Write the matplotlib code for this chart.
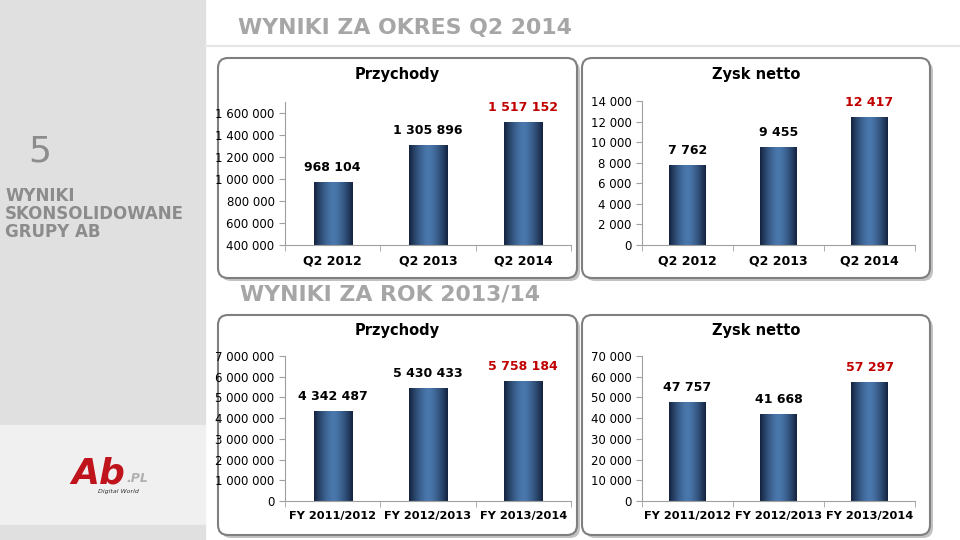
import numpy as np
import matplotlib.pyplot as plt
from matplotlib.patches import FancyBboxPatch, Rectangle
from matplotlib.colors import LinearSegmentedColormap

# data
q_labels = ["Q2 2012", "Q2 2013", "Q2 2014"]
q_revenue = [968104, 1305896, 1517152]
q_profit = [7762, 9455, 12417]

fy_labels = ["FY 2011/2012", "FY 2012/2013", "FY 2013/2014"]
fy_revenue = [4342487, 5430433, 5758184]
fy_profit = [47757, 41668, 57297]

W, H = 960, 540
fig = plt.figure(figsize=(9.6, 5.4), dpi=100)
fig.patch.set_facecolor("white")


def px(x, y, w, h):
    # pixel box (top-left origin) -> figure fraction
    return [x / W, 1 - (y + h) / H, w / W, h / H]


bg = fig.add_axes([0, 0, 1, 1], zorder=-10)
bg.set_xlim(0, W)
bg.set_ylim(H, 0)
bg.axis("off")
bg.add_patch(Rectangle((0, 0), 205, 425, color="#e0e0e0"))
bg.add_patch(Rectangle((0, 425), 205, 100, color="#f0f0f0"))
bg.add_patch(Rectangle((0, 525), 205, 15, color="#e0e0e0"))
bg.plot([205, 960], [46, 46], color="#e6e6e6", lw=1.5)

bg.text(238, 28, "WYNIKI ZA OKRES Q2 2014", color="#a6a6a6", fontsize=15.8,
        fontweight="bold", va="center")
bg.text(240, 295, "WYNIKI ZA ROK 2013/14", color="#a6a6a6", fontsize=15.8,
        fontweight="bold", va="center")
bg.text(40, 152, "5", color="#8c8c8c", fontsize=26, ha="center", va="center")
bg.text(5, 214, "WYNIKI\nSKONSOLIDOWANE\nGRUPY AB", color="#8c8c8c", fontsize=12,
        fontweight="bold", va="center", linespacing=1.0)
bg.text(98, 474, "Ab", color="#c0141c", fontsize=26, fontweight="bold",
        style="italic", ha="center", va="center")
bg.text(126, 478, ".PL", color="#b0b0b0", fontsize=9, fontweight="bold",
        style="italic", va="center")
bg.text(118, 492, "Digital World", color="#333333", fontsize=4.5,
        style="italic", ha="center", va="center")

boxes = [(218, 58, 359, 220, "Przychody"), (582, 58, 348, 220, "Zysk netto"),
         (218, 315, 359, 220, "Przychody"), (582, 315, 348, 220, "Zysk netto")]
for x, y, w, h, title in boxes:
    bg.add_patch(FancyBboxPatch((x + 3, y + 3), w, h, boxstyle="round,pad=0,rounding_size=10",
                                fc="#9a9a9a", ec="none", alpha=0.6))
    bg.add_patch(FancyBboxPatch((x, y), w, h, boxstyle="round,pad=0,rounding_size=10",
                                fc="white", ec="#7f7f7f", lw=1.5))
    bg.text(x + w / 2, y + 16, title, fontsize=10.5, fontweight="bold",
            ha="center", va="center")


def fmt(v):
    return f"{int(v):,}".replace(",", " ")


def bar_chart(rect, labels, values, ylim, step, xlim, xfs=9):
    ax = fig.add_axes(px(*rect))
    xs = np.arange(len(values))
    grad = 1 - np.abs(np.linspace(-1, 1, 64)) ** 1.5
    cmap = LinearSegmentedColormap.from_list("b", ["#14233f", "#4a78ad"])
    bw = 0.4
    for i, v in zip(xs, values):
        ax.imshow(grad[None, :], cmap=cmap, aspect="auto",
                  extent=(i - bw / 2, i + bw / 2, ylim[0], v), zorder=2)
        col = "#c00000" if i == len(values) - 1 else "black"
        ax.annotate(fmt(v), (i, v), xytext=(0, 6), textcoords="offset points",
                    ha="center", va="bottom", fontsize=9, fontweight="bold", color=col)
    ax.set_xlim(*xlim)
    ax.set_ylim(*ylim)
    ax.set_yticks(np.arange(ylim[0], ylim[1] + 1, step))
    ax.set_yticklabels([fmt(t) for t in ax.get_yticks()])
    ax.set_xticks(xs)
    ax.set_xticklabels(labels, fontweight="bold", fontsize=xfs)
    ax.set_xticks(np.arange(len(values) + 1) - 0.5, minor=True)
    ax.tick_params(axis="x", which="major", length=0, pad=7)
    ax.tick_params(axis="x", which="minor", length=4, color="#a0a0a0")
    ax.tick_params(axis="y", labelsize=8.5, length=4, color="#a0a0a0")
    for s in ["top", "right"]:
        ax.spines[s].set_visible(False)
    for s in ["left", "bottom"]:
        ax.spines[s].set_color("#a0a0a0")
    ax.patch.set_alpha(0)
    return ax


bar_chart((285, 102, 286, 143), q_labels, q_revenue, (400000, 1700000), 200000, (-0.5, 2.5))
bar_chart((642, 101, 273, 144), q_labels, q_profit, (0, 14000), 2000, (-0.4, 2.5))
bar_chart((285, 356, 286, 145), fy_labels, fy_revenue, (0, 7000000), 1000000, (-0.5, 2.5), 8.2)
bar_chart((642, 356, 273, 145), fy_labels, fy_profit, (0, 70000), 10000, (-0.4, 2.5), 8.2)

fig.savefig("out.png", dpi=100)
